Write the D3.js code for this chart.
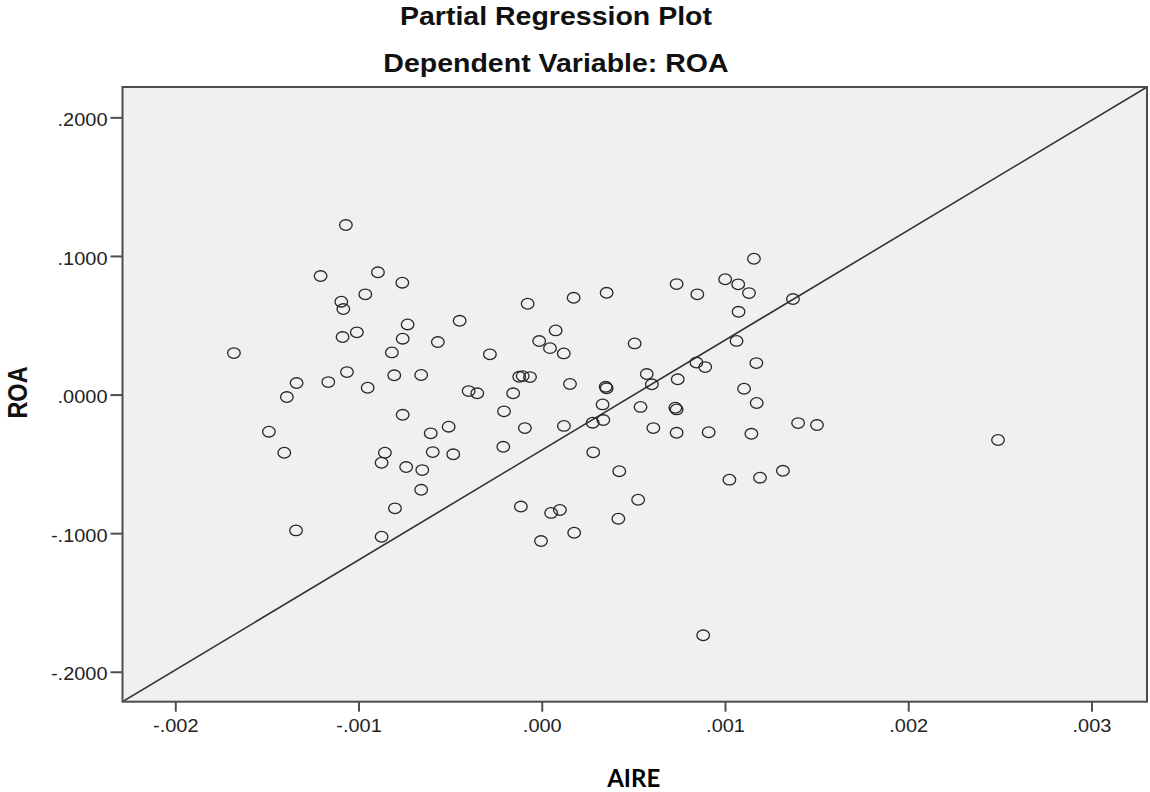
<!DOCTYPE html>
<html><head><meta charset="utf-8">
<script src="https://cdn.jsdelivr.net/npm/d3@7"></script>
<style>body{margin:0;background:#fff}</style>
</head><body>
<svg id="chart" width="1150" height="792"></svg>
<script>
const titleLines = ["Partial Regression Plot", "Dependent Variable: ROA"];
const xLabel = "AIRE";
const yLabel = "ROA";

const aire = [
 -0.001069,-0.001207,-0.000894,-0.000761,-0.000963,-0.001094,-0.001083,-0.000732,-0.000448,-0.001087,
 -0.001009,-0.000759,-0.000567,-0.000818,-0.001680,-0.001338,-0.001391,-0.001165,-0.001063,-0.000950,
 -0.000805,-0.000658,-0.000399,-0.000352,-0.000759,-0.001489,-0.000508,-0.000606,-0.001405,-0.000856,
 -0.000874,-0.000595,-0.000483,-0.000740,-0.000652,-0.000658,-0.000801,-0.001341,-0.000874,
 0.000736,0.000849,0.001001,0.001072,0.000354,0.000174,-0.000077,0.000076,-0.000014,0.000045,
 0.000120,0.000507,0.001074,0.001063,-0.000283,-0.000123,-0.000104,-0.000064,-0.000156,0.000154,
 0.000349,0.000354,0.000573,0.000601,0.000742,0.000844,0.000892,0.001104,0.000332,-0.000206,
 0.000539,0.000729,0.000736,-0.000092,0.000121,0.000278,0.000336,0.000609,0.000736,0.000911,
 -0.000210,0.000281,0.000423,0.001024,-0.000114,0.000051,0.000099,0.000526,0.000418,
 0.001158,0.001131,0.001371,0.001171,0.001173,0.001144,0.001399,0.001502,0.001316,0.001191,
 0.000177,-0.000004,0.000881,0.002490
];
const roa = [
 0.1223,0.0855,0.0882,0.0807,0.0723,0.0670,0.0617,0.0506,0.0532,0.0415,
 0.0449,0.0403,0.0379,0.0304,0.0299,0.0083,-0.0018,0.0090,0.0162,0.0049,
 0.0139,0.0141,0.0025,0.0009,-0.0146,-0.0268,-0.0232,-0.0280,-0.0420,-0.0420,
 -0.0492,-0.0415,-0.0431,-0.0523,-0.0545,-0.0687,-0.0821,-0.0980,-0.1026,
 0.0797,0.0723,0.0832,0.0795,0.0734,0.0698,0.0655,0.0463,0.0386,0.0335,
 0.0297,0.0369,0.0597,0.0387,0.0290,0.0128,0.0133,0.0126,0.0009,0.0076,
 0.0056,0.0045,0.0148,0.0074,0.0110,0.0231,0.0198,0.0042,-0.0071,-0.0121,
 -0.0089,-0.0095,-0.0107,-0.0242,-0.0226,-0.0203,-0.0184,-0.0242,-0.0276,-0.0272,
 -0.0377,-0.0417,-0.0553,-0.0614,-0.0808,-0.0854,-0.0833,-0.0759,-0.0896,
 0.0980,0.0732,0.0689,0.0227,-0.0061,-0.0283,-0.0206,-0.0220,-0.0550,-0.0600,
 -0.0997,-0.1057,-0.1737,-0.0328
];

const xTickValues = [-0.002, -0.001, 0, 0.001, 0.002, 0.003];
const xTickLabels = ["-.002", "-.001", ".000", ".001", ".002", ".003"];
const yTickValues = [0.2, 0.1, 0, -0.1, -0.2];
const yTickLabels = [".2000", ".1000", ".0000", "-.1000", "-.2000"];
const xDomain = [-0.002288, 0.003303];
const yDomain = [-0.2216, 0.2219];
const fitIntercept = -0.0401;
const fitSlope = 79.32;

// layout
const L = 122.5, R = 1147, T = 87, B = 701.7;
const STRETCH = 1.14;
const FONT = "'Liberation Sans', Arial, sans-serif";

const svg = d3.select("#chart");
const x = d3.scaleLinear().domain(xDomain).range([L, R]);
const y = d3.scaleLinear().domain(yDomain).range([B, T]);

function stretch(sel, factor) {
  sel.each(function () {
    const w = this.getComputedTextLength();
    this.setAttribute("textLength", w * factor);
    this.setAttribute("lengthAdjust", "spacingAndGlyphs");
  });
}

svg.append("rect").attr("x", L).attr("y", T).attr("width", R - L).attr("height", B - T)
  .attr("fill", "#f0f0f0");

svg.append("clipPath").attr("id", "clip").append("rect")
  .attr("x", L).attr("y", T).attr("width", R - L).attr("height", B - T);

// fit line
const lineGen = d3.line().x(d => x(d)).y(d => y(fitIntercept + fitSlope * d));
svg.append("path").datum(xDomain).attr("d", lineGen)
  .attr("clip-path", "url(#clip)")
  .attr("stroke", "#333").attr("stroke-width", 1.6).attr("fill", "none");

// points
const pts = aire.map((a, i) => ({ a, r: roa[i] }));
svg.append("g").selectAll("ellipse").data(pts).join("ellipse")
  .attr("cx", d => x(d.a)).attr("cy", d => y(d.r))
  .attr("rx", 6.3).attr("ry", 5.3)
  .attr("fill", "none").attr("stroke", "#262626").attr("stroke-width", 1.3);

// axes
const yAxis = svg.append("g").attr("transform", `translate(${L},0)`)
  .call(d3.axisLeft(y).tickValues(yTickValues).tickFormat((d, i) => yTickLabels[i]).tickSize(12).tickPadding(3));
yAxis.select(".domain").remove();
yAxis.selectAll(".tick line").attr("stroke", "#4d4d4d").attr("stroke-width", 2);
yAxis.selectAll(".tick text").attr("font-family", FONT).attr("font-size", 17.5).attr("fill", "#222")
  .attr("dy", "0.32em").attr("y", 2.5).call(stretch, STRETCH);

const xAxis = svg.append("g").attr("transform", `translate(0,${B})`)
  .call(d3.axisBottom(x).tickValues(xTickValues).tickFormat((d, i) => xTickLabels[i]).tickSize(10));
xAxis.select(".domain").remove();
xAxis.selectAll(".tick line").attr("stroke", "#4d4d4d").attr("stroke-width", 2);
xAxis.selectAll(".tick text").attr("font-family", FONT).attr("font-size", 17.5).attr("fill", "#222")
  .attr("dy", null).attr("y", 30).call(stretch, STRETCH);

// frame
svg.append("rect").attr("x", L).attr("y", T).attr("width", R - L).attr("height", B - T)
  .attr("fill", "none").attr("stroke", "#4d4d4d").attr("stroke-width", 2);

// titles
svg.append("g").selectAll("text").data(titleLines).join("text")
  .attr("x", 556).attr("y", (d, i) => [25, 71.5][i])
  .attr("text-anchor", "middle").attr("font-family", FONT).attr("font-weight", "bold")
  .attr("font-size", 25).attr("fill", "#111").text(d => d).call(stretch, STRETCH);

svg.append("text").attr("x", 633.7).attr("y", 786.5).attr("text-anchor", "middle")
  .attr("font-family", "Lato, 'Open Sans', sans-serif").attr("font-weight", "bold")
  .attr("font-size", 24).attr("fill", "#000").text(xLabel).attr("textLength", 53)
  .attr("lengthAdjust", "spacingAndGlyphs");

svg.append("text").attr("transform", `translate(27,392.5) scale(${STRETCH},1) rotate(-90)`)
  .attr("text-anchor", "middle").attr("font-family", FONT).attr("font-weight", "bold")
  .attr("font-size", 23.5).attr("fill", "#111").text(yLabel);
</script>
</body></html>
